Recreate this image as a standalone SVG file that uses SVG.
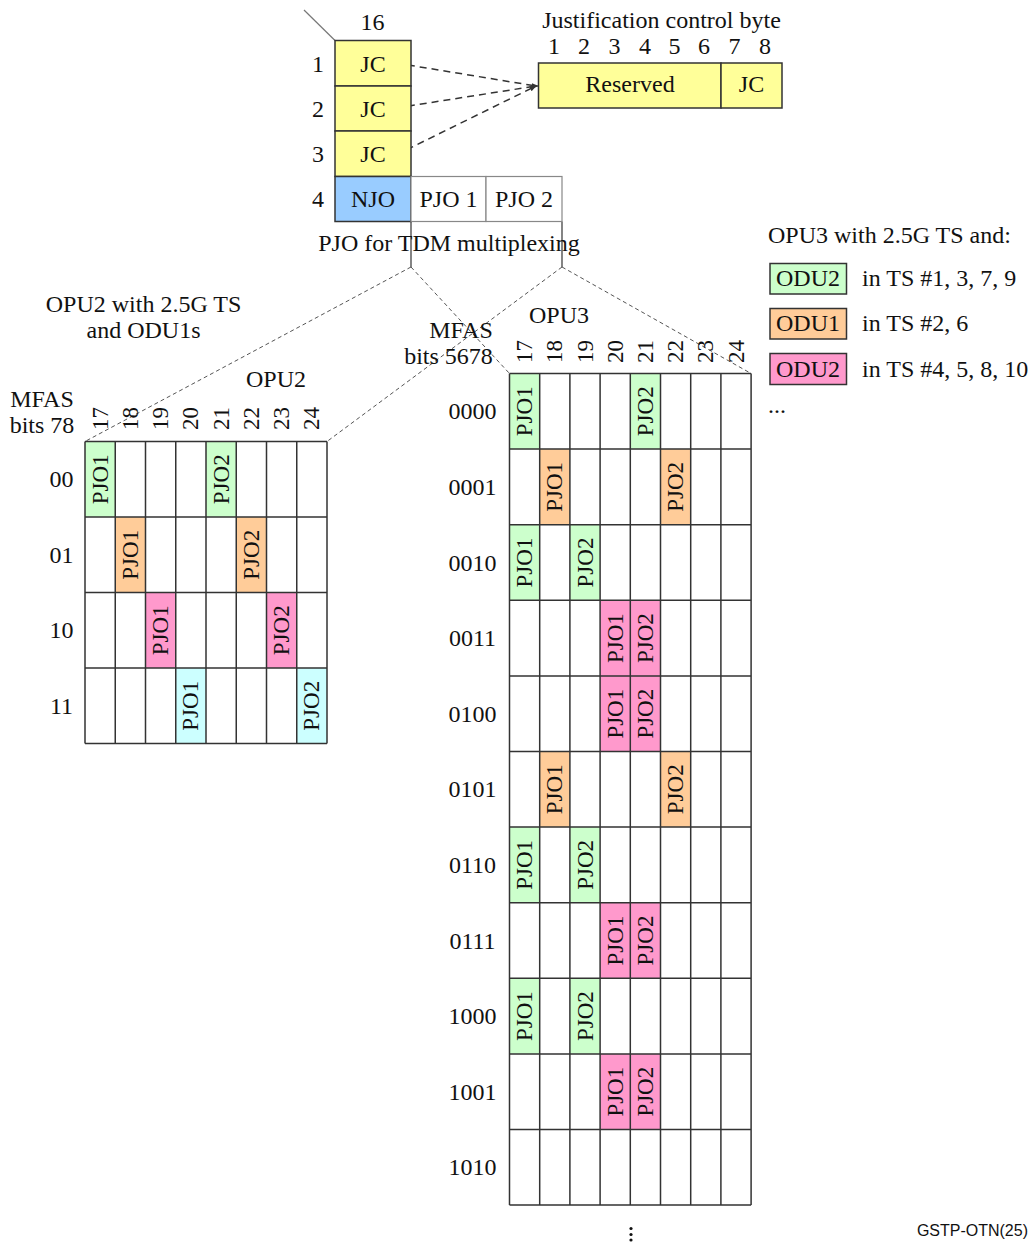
<svg xmlns="http://www.w3.org/2000/svg" width="1032" height="1242" viewBox="0 0 1032 1242">
<defs>
<style>
text{font-family:"Liberation Serif","Times New Roman",serif;font-size:24px;fill:#111}
.r{font-size:23px}
.m{text-anchor:middle}
.c{dominant-baseline:central}
.grid{stroke:#333;stroke-width:1.5;fill:none}
.box{stroke:#333;stroke-width:1.5}
.lbox{stroke:#888;stroke-width:1.2;fill:#fff}
.y{fill:#ffff99}.b{fill:#99ccff}.gr{fill:#ccffcc}.o{fill:#ffcc99}.p{fill:#ff99cc}.cy{fill:#ccffff}
.dash{stroke:#555;stroke-width:1;stroke-dasharray:4 3;fill:none}
.jcd{stroke:#333;stroke-width:1.5;stroke-dasharray:7 5;fill:none}
</style>
<marker id="ah" viewBox="0 0 10 10" refX="9" refY="5" markerWidth="7" markerHeight="7" orient="auto" markerUnits="userSpaceOnUse">
<path d="M0,1 L10,5 L0,9 z" fill="#333"/>
</marker>
</defs>
<rect width="1032" height="1242" fill="#fff"/>

<g id="connectors">
<line x1="304" y1="10" x2="335" y2="40.5" stroke="#777" stroke-width="1.2"/>
<path class="jcd" d="M396,63 L536,86 M396,108 L536,86 M396,155 L536,86" marker-end="url(#ah)"/>
<line x1="536" y1="86" x2="538" y2="86" stroke="#333" marker-end="url(#ah)"/>
<line x1="411" y1="221.5" x2="411" y2="267" stroke="#333" stroke-width="1.2"/>
<line x1="562" y1="221.5" x2="562" y2="267" stroke="#333" stroke-width="1.2"/>
<path class="dash" d="M411,267 L85,441.5 M562,267 L327,441.5 M411,267 L509.5,373.5 M562,267 L751.1,373.5"/>
</g>

<g id="column16">
<text x="372.5" y="30" class="m">16</text>
<text x="318" y="72" class="m">1</text>
<text x="318" y="117" class="m">2</text>
<text x="318" y="162" class="m">3</text>
<text x="318" y="207" class="m">4</text>
<rect x="335" y="40.5" width="76" height="45.5" class="box y"/>
<rect x="335" y="86" width="76" height="45" class="box y"/>
<rect x="335" y="131" width="76" height="45.5" class="box y"/>
<rect x="335" y="176.5" width="76" height="45" class="box b"/>
<text x="373" y="72" class="m">JC</text>
<text x="373" y="117" class="m">JC</text>
<text x="373" y="162" class="m">JC</text>
<text x="373" y="207" class="m">NJO</text>
</g>
<g id="pjo-cells">
<rect x="411" y="176.5" width="75" height="45" class="lbox"/>
<rect x="486" y="176.5" width="76" height="45" class="lbox"/>
<text x="448.5" y="207" class="m">PJO 1</text>
<text x="524" y="207" class="m">PJO 2</text>
<text x="449" y="251" class="m">PJO for TDM multiplexing</text>
</g>

<g id="jc-byte">
<text x="661.5" y="27.5" class="m">Justification control byte</text>
<text x="554" y="54" class="m">1</text>
<text x="584" y="54" class="m">2</text>
<text x="614.5" y="54" class="m">3</text>
<text x="645" y="54" class="m">4</text>
<text x="674.5" y="54" class="m">5</text>
<text x="704" y="54" class="m">6</text>
<text x="734.5" y="54" class="m">7</text>
<text x="765" y="54" class="m">8</text>
<rect x="538.5" y="63" width="182.5" height="45" class="box y"/>
<rect x="721" y="63" width="61" height="45" class="box y"/>
<text x="630" y="92" class="m">Reserved</text>
<text x="751.5" y="92" class="m">JC</text>
</g>

<g id="legend">
<text x="768" y="243">OPU3 with 2.5G TS and:</text>
<rect x="770" y="263.5" width="76.5" height="30.5" class="box gr"/>
<text x="808" y="286" class="m">ODU2</text>
<text x="862" y="286">in TS #1, 3, 7, 9</text>
<rect x="770" y="308.5" width="76.5" height="30.5" class="box o"/>
<text x="808" y="331" class="m">ODU1</text>
<text x="862" y="331">in TS #2, 6</text>
<rect x="770" y="353.5" width="76.5" height="31" class="box p"/>
<text x="808" y="376.5" class="m">ODU2</text>
<text x="862" y="376.5">in TS #4, 5, 8, 10</text>
<text x="768" y="413">...</text>
</g>

<g id="opu2">
<text x="143.5" y="311.5" class="m">OPU2 with 2.5G TS</text>
<text x="143.5" y="338" class="m">and ODU1s</text>
<text x="276" y="386.5" class="m">OPU2</text>
<text x="42" y="406.5" class="m">MFAS</text>
<text x="42" y="433" class="m">bits 78</text>
<text transform="translate(100.1,430) rotate(-90)" class="c r">17</text>
<text transform="translate(130.4,430) rotate(-90)" class="c r">18</text>
<text transform="translate(160.6,430) rotate(-90)" class="c r">19</text>
<text transform="translate(190.9,430) rotate(-90)" class="c r">20</text>
<text transform="translate(221.1,430) rotate(-90)" class="c r">21</text>
<text transform="translate(251.4,430) rotate(-90)" class="c r">22</text>
<text transform="translate(281.6,430) rotate(-90)" class="c r">23</text>
<text transform="translate(311.9,430) rotate(-90)" class="c r">24</text>
<text x="61.5" y="479.25" class="m c">00</text>
<text x="61.5" y="554.75" class="m c">01</text>
<text x="61.5" y="630.25" class="m c">10</text>
<text x="61.5" y="705.75" class="m c">11</text>
<rect x="85" y="441.5" width="242" height="302" fill="#fff"/>
<rect x="85" y="441.5" width="30.25" height="75.5" class="gr"/>
<rect x="206" y="441.5" width="30.25" height="75.5" class="gr"/>
<rect x="115.25" y="517" width="30.25" height="75.5" class="o"/>
<rect x="236.25" y="517" width="30.25" height="75.5" class="o"/>
<rect x="145.5" y="592.5" width="30.25" height="75.5" class="p"/>
<rect x="266.5" y="592.5" width="30.25" height="75.5" class="p"/>
<rect x="175.75" y="668" width="30.25" height="75.5" class="cy"/>
<rect x="296.75" y="668" width="30.25" height="75.5" class="cy"/>
<path class="grid" d="M85,441.5V743.5M115.25,441.5V743.5M145.5,441.5V743.5M175.75,441.5V743.5M206,441.5V743.5M236.25,441.5V743.5M266.5,441.5V743.5M296.75,441.5V743.5M327,441.5V743.5M85,441.5H327M85,517H327M85,592.5H327M85,668H327M85,743.5H327"/>
<text transform="translate(100.1,479.25) rotate(-90)" class="m c r">PJO1</text>
<text transform="translate(221.1,479.25) rotate(-90)" class="m c r">PJO2</text>
<text transform="translate(130.4,554.75) rotate(-90)" class="m c r">PJO1</text>
<text transform="translate(251.4,554.75) rotate(-90)" class="m c r">PJO2</text>
<text transform="translate(160.6,630.25) rotate(-90)" class="m c r">PJO1</text>
<text transform="translate(281.6,630.25) rotate(-90)" class="m c r">PJO2</text>
<text transform="translate(190.9,705.75) rotate(-90)" class="m c r">PJO1</text>
<text transform="translate(311.9,705.75) rotate(-90)" class="m c r">PJO2</text>
</g>

<g id="opu3">
<text x="559" y="323" class="m">OPU3</text>
<text x="461" y="338" class="m">MFAS</text>
<text x="448.5" y="364" class="m">bits 5678</text>
<text transform="translate(524.6,363) rotate(-90)" class="c r">17</text>
<text transform="translate(554.8,363) rotate(-90)" class="c r">18</text>
<text transform="translate(585,363) rotate(-90)" class="c r">19</text>
<text transform="translate(615.2,363) rotate(-90)" class="c r">20</text>
<text transform="translate(645.4,363) rotate(-90)" class="c r">21</text>
<text transform="translate(675.6,363) rotate(-90)" class="c r">22</text>
<text transform="translate(705.8,363) rotate(-90)" class="c r">23</text>
<text transform="translate(736,363) rotate(-90)" class="c r">24</text>
<text x="472.5" y="411.3" class="m c">0000</text>
<text x="472.5" y="486.9" class="m c">0001</text>
<text x="472.5" y="562.5" class="m c">0010</text>
<text x="472.5" y="638.1" class="m c">0011</text>
<text x="472.5" y="713.7" class="m c">0100</text>
<text x="472.5" y="789.3" class="m c">0101</text>
<text x="472.5" y="864.9" class="m c">0110</text>
<text x="472.5" y="940.5" class="m c">0111</text>
<text x="472.5" y="1016.1" class="m c">1000</text>
<text x="472.5" y="1091.7" class="m c">1001</text>
<text x="472.5" y="1167.3" class="m c">1010</text>
<rect x="509.5" y="373.5" width="241.6" height="831.6" fill="#fff"/>
<rect x="509.5" y="373.5" width="30.2" height="75.6" class="gr"/>
<rect x="630.3" y="373.5" width="30.2" height="75.6" class="gr"/>
<rect x="539.7" y="449.1" width="30.2" height="75.6" class="o"/>
<rect x="660.5" y="449.1" width="30.2" height="75.6" class="o"/>
<rect x="509.5" y="524.7" width="30.2" height="75.6" class="gr"/>
<rect x="569.9" y="524.7" width="30.2" height="75.6" class="gr"/>
<rect x="600.1" y="600.3" width="60.4" height="151.2" class="p"/>
<rect x="539.7" y="751.5" width="30.2" height="75.6" class="o"/>
<rect x="660.5" y="751.5" width="30.2" height="75.6" class="o"/>
<rect x="509.5" y="827.1" width="30.2" height="75.6" class="gr"/>
<rect x="569.9" y="827.1" width="30.2" height="75.6" class="gr"/>
<rect x="600.1" y="902.7" width="60.4" height="75.6" class="p"/>
<rect x="509.5" y="978.3" width="30.2" height="75.6" class="gr"/>
<rect x="569.9" y="978.3" width="30.2" height="75.6" class="gr"/>
<rect x="600.1" y="1053.9" width="60.4" height="75.6" class="p"/>
<path class="grid" d="M509.5,373.5V1205.1M539.7,373.5V1205.1M569.9,373.5V1205.1M600.1,373.5V1205.1M630.3,373.5V1205.1M660.5,373.5V1205.1M690.7,373.5V1205.1M720.9,373.5V1205.1M751.1,373.5V1205.1M509.5,373.5H751.1M509.5,449.1H751.1M509.5,524.7H751.1M509.5,600.3H751.1M509.5,675.9H751.1M509.5,751.5H751.1M509.5,827.1H751.1M509.5,902.7H751.1M509.5,978.3H751.1M509.5,1053.9H751.1M509.5,1129.5H751.1M509.5,1205.1H751.1"/>
<text transform="translate(524.6,411.3) rotate(-90)" class="m c r">PJO1</text>
<text transform="translate(645.4,411.3) rotate(-90)" class="m c r">PJO2</text>
<text transform="translate(554.8,486.9) rotate(-90)" class="m c r">PJO1</text>
<text transform="translate(675.6,486.9) rotate(-90)" class="m c r">PJO2</text>
<text transform="translate(524.6,562.5) rotate(-90)" class="m c r">PJO1</text>
<text transform="translate(585,562.5) rotate(-90)" class="m c r">PJO2</text>
<text transform="translate(615.2,638.1) rotate(-90)" class="m c r">PJO1</text>
<text transform="translate(645.4,638.1) rotate(-90)" class="m c r">PJO2</text>
<text transform="translate(615.2,713.7) rotate(-90)" class="m c r">PJO1</text>
<text transform="translate(645.4,713.7) rotate(-90)" class="m c r">PJO2</text>
<text transform="translate(554.8,789.3) rotate(-90)" class="m c r">PJO1</text>
<text transform="translate(675.6,789.3) rotate(-90)" class="m c r">PJO2</text>
<text transform="translate(524.6,864.9) rotate(-90)" class="m c r">PJO1</text>
<text transform="translate(585,864.9) rotate(-90)" class="m c r">PJO2</text>
<text transform="translate(615.2,940.5) rotate(-90)" class="m c r">PJO1</text>
<text transform="translate(645.4,940.5) rotate(-90)" class="m c r">PJO2</text>
<text transform="translate(524.6,1016.1) rotate(-90)" class="m c r">PJO1</text>
<text transform="translate(585,1016.1) rotate(-90)" class="m c r">PJO2</text>
<text transform="translate(615.2,1091.7) rotate(-90)" class="m c r">PJO1</text>
<text transform="translate(645.4,1091.7) rotate(-90)" class="m c r">PJO2</text>
<circle cx="631" cy="1228.5" r="1.6" fill="#111"/>
<circle cx="631" cy="1234.5" r="1.6" fill="#111"/>
<circle cx="631" cy="1240" r="1.6" fill="#111"/>
</g>

<text x="1028" y="1236" text-anchor="end" style="font-family:'Liberation Sans',Arial,sans-serif;font-size:16px">GSTP-OTN(25)</text>
</svg>
